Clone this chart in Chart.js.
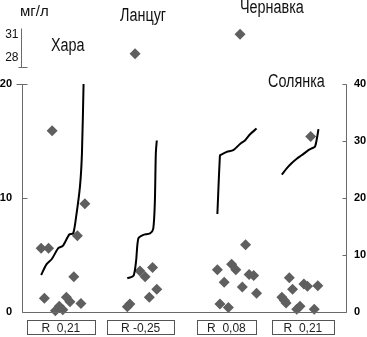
<!DOCTYPE html>
<html>
<head>
<meta charset="utf-8">
<script src="https://cdn.jsdelivr.net/npm/chart.js@4.4.1/dist/chart.umd.min.js"></script>
<style>
  html, body { margin: 0; padding: 0; background: #fff; }
  #wrap { width: 367px; height: 337px; }
</style>
</head>
<body>
<div id="wrap"><canvas id="chart"></canvas></div>
<script>
// --- dados ---
const grupos = ['Хара', 'Ланцуг', 'Чернавка', 'Солянка'];
const rTextos = ['R  0,21', 'R -0,25', 'R  0,08', 'R  0,21'];
const rCentros = [12.0, 36.6, 63.1, 86.7];

// pontos (mg/l), eixo esquerdo 0-20
const haraX = [5.9, 8.2, 9.3, 6.9, 16.0, 17.1, 19.4, 10.3, 11.5, 12.6, 13.7, 14.8, 18.2];
const haraY = [5.6, 5.6, 15.9, 1.2, 3.1, 6.7, 9.5, 0.1, 0.5, 0.2, 1.3, 0.9, 0.75];
const lancX = [33.3, 32.5, 36.4, 38.0, 40.3, 41.6, 39.3];
const lancY = [0.7, 0.45, 3.6, 3.1, 3.9, 2.0, 1.3];
const chernX = [60.3, 62.4, 64.7, 66.0, 69.0, 68.0, 70.1, 71.5, 72.4, 61.1, 63.7];
const chernY = [3.7, 2.6, 4.2, 3.7, 5.9, 2.2, 3.3, 3.2, 1.65, 0.7, 0.4];
const solX = [82.5, 83.5, 87.0, 88.1, 91.3, 80.2, 81.0, 81.5, 84.8, 85.8, 90.2, 89.1];
const solY = [3.0, 2.0, 2.45, 2.25, 2.3, 1.3, 1.0, 0.8, 0.25, 0.5, 0.25, 15.4];

// pontos acima da quebra do eixo (28, 31)
const altosX = [34.9, 67.3];
const altosY = [28.5, 31];

// curvas, eixo direito 0-40
const haraLinX = [5.9, 7.6, 9.2, 11.2, 12.6, 14.6, 15.8, 16.7, 17.9, 18.5, 19.0];
const haraLinY = [6.5, 8.4, 9.3, 11.2, 11.6, 13.6, 13.8, 16.7, 22.1, 27.8, 40];
const lancLinX = [32.5, 34.4, 35.2, 35.9, 37.3, 39.5, 40.5, 41.0, 41.3, 41.6];
const lancLinY = [5.9, 6.35, 8.9, 12.9, 13.5, 13.8, 14.6, 19.2, 27.8, 30.1];
const chernLinX = [60.3, 61.1, 61.4, 63.2, 65.2, 67.3, 68.8, 70.4, 72.4];
const chernLinY = [17.2, 27.5, 27.6, 28.1, 28.4, 29.5, 30.1, 31.2, 32.2];
const solLinX = [80.2, 81.7, 83.2, 84.8, 86.3, 88.4, 89.4, 90.4, 91.0, 91.5];
const solLinY = [24.1, 25.2, 26.1, 26.9, 27.5, 28.4, 28.7, 29.0, 30.4, 32.1];

const ticksEsq = [0, 10, 20];
const ticksDir = [0, 10, 20, 30, 40];
const ticksQuebra = [31, 28];

function pares(xs, ys) { return xs.map((x, i) => ({ x: x, y: ys[i] })); }

const corPonto = '#5f5f5f';
const corEixo = '#6a6a6a';

function pontos(xs, ys, eixo) {
    return {
        type: 'scatter', data: pares(xs, ys), yAxisID: eixo,
        pointStyle: 'rectRot', pointRadius: 5.5, backgroundColor: corPonto,
        borderColor: corPonto, borderWidth: 0, clip: false
    };
}
function curva(xs, ys) {
    return {
        type: 'line', data: pares(xs, ys), yAxisID: 'y2',
        borderColor: '#000', borderWidth: 2, pointRadius: 0,
        tension: 0.25, fill: false, clip: false
    };
}

// plugin para desenhar eixos, quebra, títulos e caixas R
const extras = {
    id: 'extras',
    afterDraw(chart) {
        const ctx = chart.ctx;
        const ca = chart.chartArea;
        const y = chart.scales.y, y2 = chart.scales.y2, yq = chart.scales.yTop, x = chart.scales.x;
        ctx.save();
        ctx.strokeStyle = corEixo;
        ctx.lineWidth = 1;
        const L = Math.round(ca.left) + 0.5, R = Math.round(ca.right) + 0.5;
        const y0 = Math.round(y.getPixelForValue(0)) + 0.5;
        ctx.beginPath();
        // eixo esquerdo
        ctx.moveTo(L, Math.round(y.getPixelForValue(20)) + 0.5); ctx.lineTo(L, y0);
        // eixo direito
        ctx.moveTo(R, Math.round(y2.getPixelForValue(40)) + 0.5); ctx.lineTo(R, y0);
        // base
        ctx.moveTo(L, y0); ctx.lineTo(R, y0);
        ticksEsq.forEach(v => {
            const p = Math.round(y.getPixelForValue(v)) + 0.5;
            ctx.moveTo(v === 20 ? L - 6 : L, p); ctx.lineTo(L + 5, p);
        });
        ticksDir.forEach(v => {
            const p = Math.round(y2.getPixelForValue(v)) + 0.5;
            ctx.moveTo(R - 4, p); ctx.lineTo(R, p);
        });
        // eixo quebrado (28-31)
        const qx = L - 1;
        const qTop = Math.round(yq.getPixelForValue(31.75)) + 0.5;
        const qBot = Math.round(yq.getPixelForValue(26.75)) + 0.5;
        ctx.moveTo(qx, qTop); ctx.lineTo(qx, qBot);
        ctx.moveTo(qx - 3, qBot); ctx.lineTo(qx + 6, qBot);
        ctx.stroke();

        ctx.fillStyle = '#111';
        ctx.font = '12px "Liberation Sans", Arial, sans-serif';
        ctx.textAlign = 'right';
        ctx.textBaseline = 'middle';
        ticksQuebra.forEach(v => ctx.fillText(String(v), qx - 3, yq.getPixelForValue(v)));

        ctx.textAlign = 'left';
        ctx.font = '15px "Liberation Sans", Arial, sans-serif';
        ctx.fillText('мг/л', 20, 12);

        // títulos dos grupos (fonte estreita)
        ctx.font = '18px "Liberation Sans", Arial, sans-serif';
        const titulos = [[51, 46], [120, 16], [240, 8], [268, 82]];
        grupos.forEach((g, i) => {
            ctx.save();
            ctx.translate(titulos[i][0], titulos[i][1]);
            ctx.scale(0.8, 1);
            ctx.fillText(g, 0, 0);
            ctx.restore();
        });

        // caixas R
        const larguras = [68, 67, 59, 62];
        ctx.strokeStyle = '#555';
        rCentros.forEach((c, i) => {
            const cx = x.getPixelForValue(c);
            const l = Math.round(cx - larguras[i] / 2) + 0.5;
            ctx.strokeRect(l, 320.5, larguras[i], 14);
        });
        ctx.restore();
    }
};

const ctxChart = document.getElementById('chart');
new Chart(ctxChart, {
    data: {
        datasets: [
            curva(haraLinX, haraLinY),
            curva(lancLinX, lancLinY),
            curva(chernLinX, chernLinY),
            curva(solLinX, solLinY),
            pontos(haraX, haraY, 'y'),
            pontos(lancX, lancY, 'y'),
            pontos(chernX, chernY, 'y'),
            pontos(solX, solY, 'y'),
            pontos(altosX, altosY, 'yTop')
        ]
    },
    plugins: [extras],
    options: {
        responsive: true,
        maintainAspectRatio: false,
        animation: false,
        layout: { padding: { top: 10, left: 0, right: 0, bottom: 0 } },
        plugins: { legend: { display: false }, tooltip: { enabled: false } },
        scales: {
            x: {
                type: 'linear', min: 0, max: 100,
                afterBuildTicks: s => { s.ticks = rCentros.map(v => ({ value: v })); },
                afterFit: s => { s.height = 25; },
                ticks: {
                    callback: (v, i) => rTextos[i],
                    autoSkip: false, maxRotation: 0, padding: 9,
                    color: '#222', font: { family: '"Liberation Sans", Arial', size: 12 }
                },
                grid: { display: false, drawTicks: false },
                border: { display: false }
            },
            y: {
                position: 'left', min: 0, max: 302 / 11.65,
                afterBuildTicks: s => { s.ticks = ticksEsq.map(v => ({ value: v })); },
                afterFit: s => { s.width = 22; },
                ticks: {
                    padding: 10, color: '#000',
                    font: { family: '"Liberation Sans", Arial', size: 11, weight: 'bold' }
                },
                grid: { display: false, drawTicks: false },
                border: { display: false }
            },
            y2: {
                position: 'right', min: 0, max: 2 * 302 / 11.65,
                afterBuildTicks: s => { s.ticks = ticksDir.map(v => ({ value: v })); },
                afterFit: s => { s.width = 21; },
                ticks: {
                    padding: 8, color: '#000',
                    font: { family: '"Liberation Sans", Arial', size: 11, weight: 'bold' }
                },
                grid: { display: false, drawTicks: false },
                border: { display: false }
            },
            yTop: {
                display: false, min: -4.5, max: 33.25
            }
        }
    }
});
</script>
</body>
</html>
